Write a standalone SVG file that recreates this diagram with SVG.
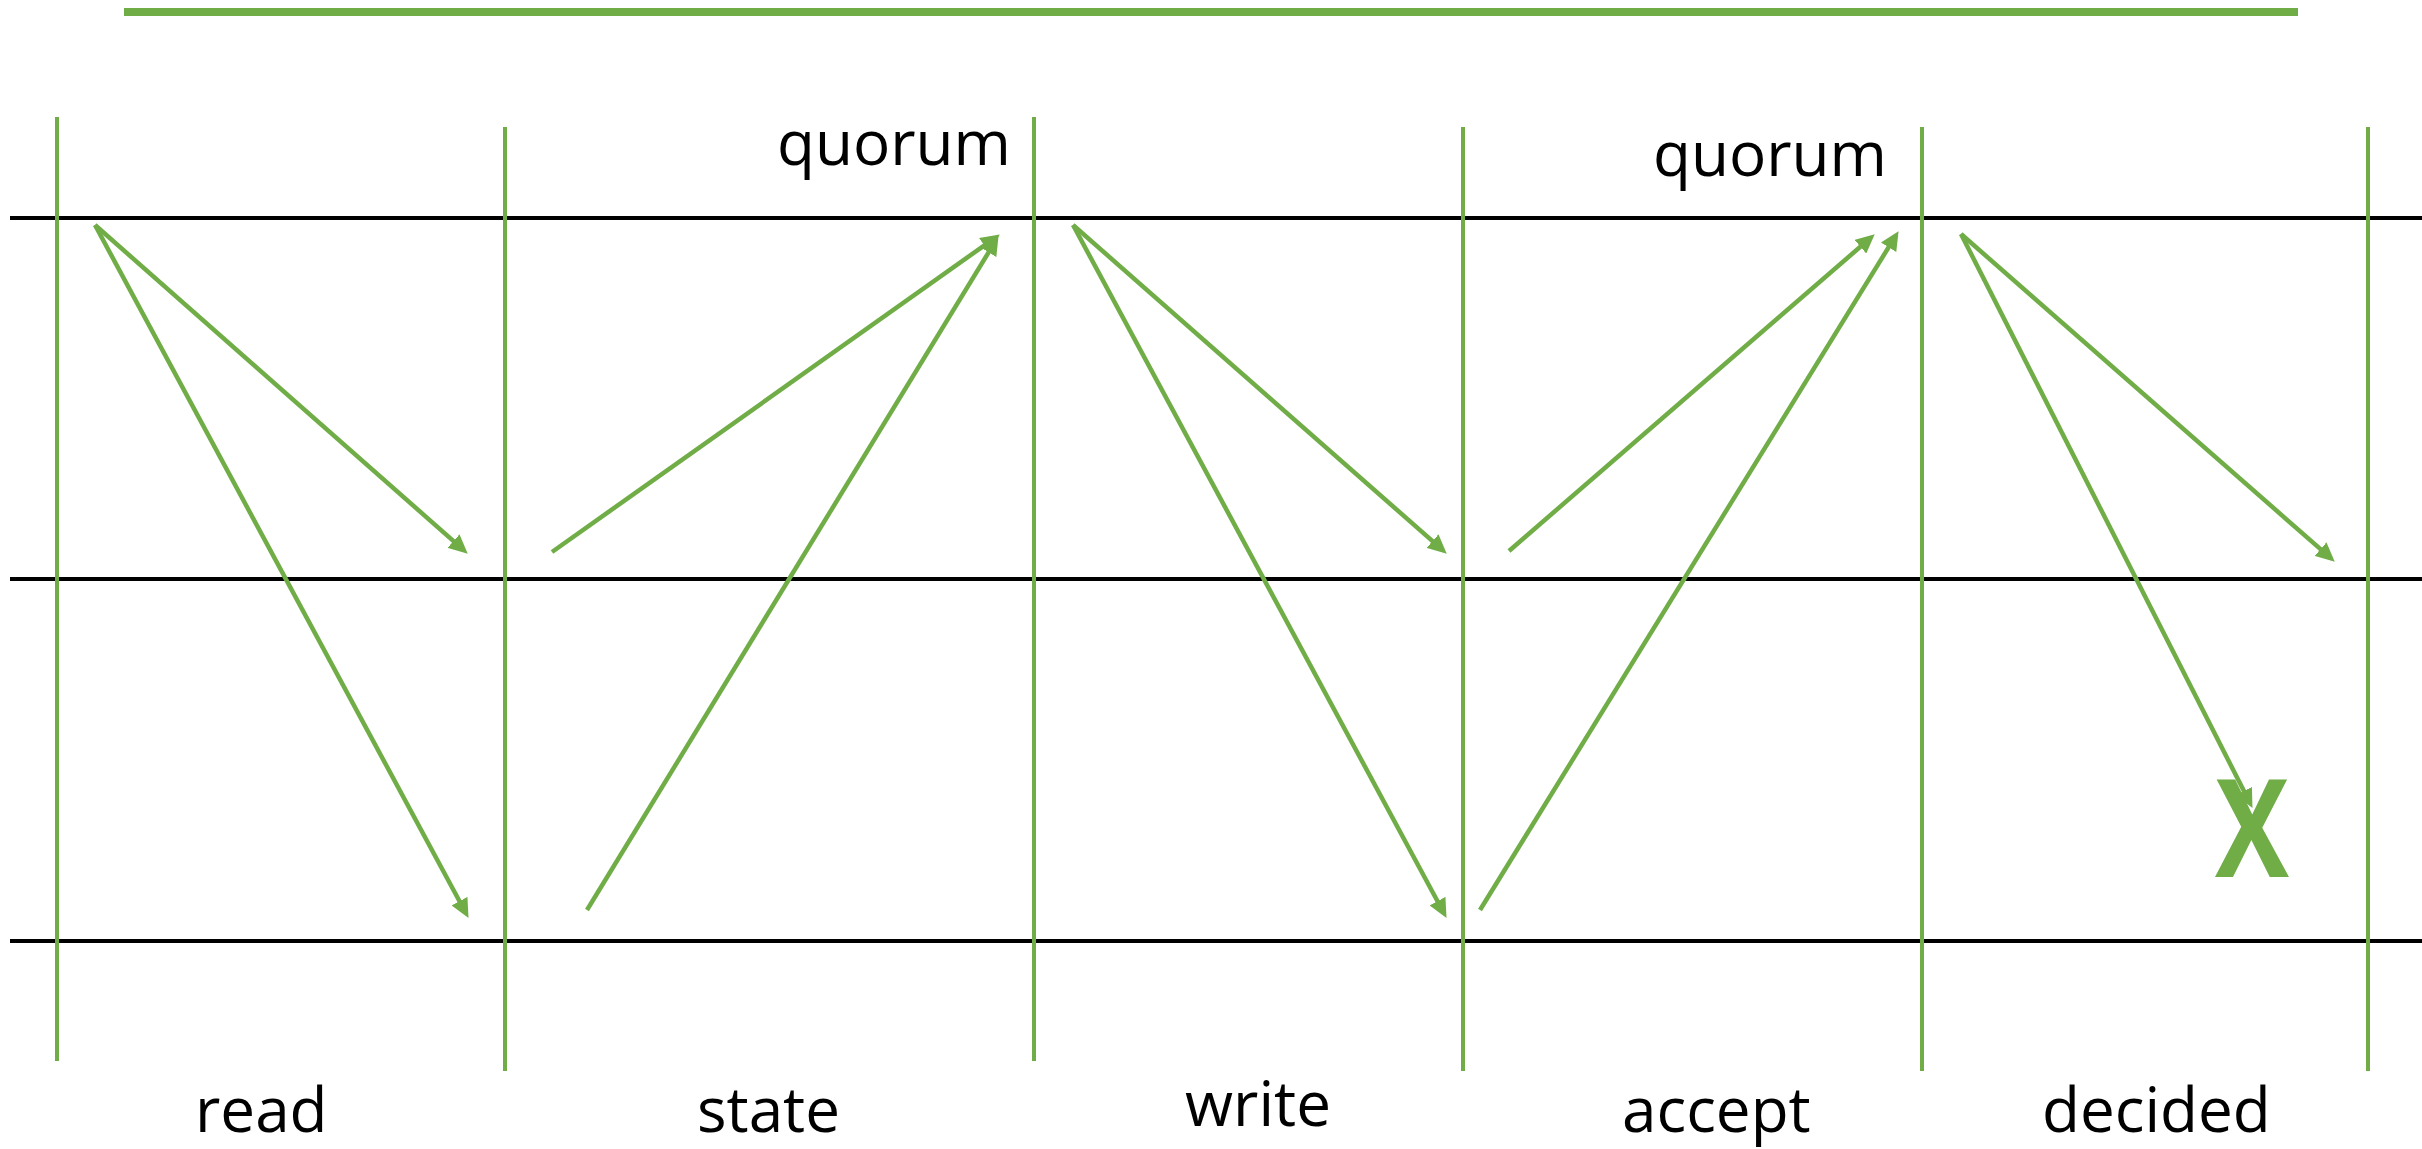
<svg xmlns="http://www.w3.org/2000/svg" width="2422" height="1149" viewBox="0 0 2422 1149">
<style>
.lane{stroke:#000;stroke-width:4;fill:none}
.sep{stroke:#70AD47;stroke-width:4;fill:none}
.msg{stroke:#70AD47;stroke-width:4.5;fill:none;marker-end:url(#ah)}
.lbl{font-family:"Open Sans","Liberation Sans",sans-serif;font-size:62px;fill:#000}
.x{font-family:"Open Sans","Liberation Sans",sans-serif;font-weight:bold;font-size:137px;fill:#70AD47}
</style>
<defs>
<marker id="ah" markerUnits="userSpaceOnUse" markerWidth="19" markerHeight="18" refX="8" refY="9" orient="auto">
<path d="M0,0 L19,9 L0,18 Z" fill="#70AD47"/>
</marker>
</defs>
<rect width="2422" height="1149" fill="#fff"/>
<g id="title-bar"><rect x="124" y="8" width="2174" height="8" fill="#70AD47"/></g>
<g id="lanes">
<line class="lane" x1="10" y1="218" x2="2422" y2="218"/>
<line class="lane" x1="10" y1="579" x2="2422" y2="579"/>
<line class="lane" x1="10" y1="941" x2="2422" y2="941"/>
</g>
<g id="phase-separators">
<line class="sep" x1="57" y1="117" x2="57" y2="1061"/>
<line class="sep" x1="505" y1="127" x2="505" y2="1071"/>
<line class="sep" x1="1034" y1="117" x2="1034" y2="1061"/>
<line class="sep" x1="1463" y1="127" x2="1463" y2="1071"/>
<line class="sep" x1="1922" y1="127" x2="1922" y2="1071"/>
<line class="sep" x1="2368" y1="127" x2="2368" y2="1071"/>
</g>
<g id="connectors">
<line class="msg" x1="95" y1="225" x2="459.5" y2="546.4"/>
<line class="msg" x1="95" y1="225" x2="463.3" y2="908.2"/>
<line class="msg" x1="552" y1="552" x2="990.8" y2="240.8"/>
<line class="msg" x1="587" y1="910" x2="992.8" y2="245.5"/>
<line class="msg" x1="1073" y1="225" x2="1438.5" y2="546.4"/>
<line class="msg" x1="1073" y1="225" x2="1441.3" y2="908.2"/>
<line class="msg" x1="1509" y1="551" x2="1866.4" y2="241.5"/>
<line class="msg" x1="1480" y1="910" x2="1892.8" y2="240.5"/>
<line class="msg" x1="1961" y1="234" x2="2326.5" y2="554.4"/>
<line class="msg" x1="1961" y1="234" x2="2247.5" y2="798.1"/>
</g>
<g id="quorum-labels">
<text class="lbl" x="777" y="165">quorum</text>
<text class="lbl" x="1653" y="176">quorum</text>
</g>
<g id="phase-read"><text class="lbl" x="195" y="1132">read</text></g>
<g id="phase-state"><text class="lbl" x="697" y="1132">state</text></g>
<g id="phase-write"><text class="lbl" x="1185" y="1126">write</text></g>
<g id="phase-accept"><text class="lbl" x="1622" y="1132">accept</text></g>
<g id="phase-decided"><text class="lbl" x="2042" y="1132">decided</text></g>
<g id="failure"><text class="x" x="2215" y="877" textLength="74" lengthAdjust="spacingAndGlyphs">X</text></g>
</svg>
